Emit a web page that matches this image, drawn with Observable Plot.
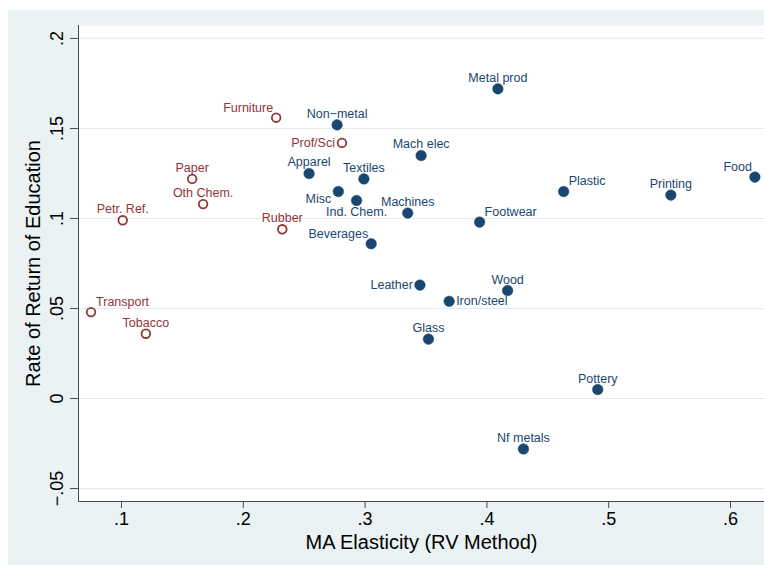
<!DOCTYPE html>
<html>
<head>
<meta charset="utf-8">
<script src="https://cdn.jsdelivr.net/npm/d3@7"></script>
<script src="https://cdn.jsdelivr.net/npm/@observablehq/plot@0.6"></script>
<style>
  html, body { margin: 0; padding: 0; background: #ffffff; }
  #wrap { position: relative; width: 764px; height: 565px; overflow: hidden; }
  #bg { position: absolute; left: 8px; top: 10px; width: 756px; height: 555px; background: #eaf2f3; }
  #chart { position: absolute; left: 0; top: 0; }
  #chart svg { background: transparent; }
</style>
</head>
<body>
<div id="wrap"><div id="bg"></div><div id="chart"></div></div>
<script>
const industries = ["Furniture","Prof/Sci","Paper","Oth Chem.","Petr. Ref.","Rubber","Transport","Tobacco",
  "Metal prod","Non\u2212metal","Mach elec","Apparel","Textiles","Misc","Ind. Chem.","Machines","Footwear",
  "Beverages","Plastic","Printing","Food","Leather","Iron/steel","Wood","Glass","Pottery","Nf metals"];
const maElasticity = [0.227,0.281,0.158,0.167,0.101,0.232,0.075,0.120,
  0.409,0.277,0.346,0.254,0.299,0.278,0.293,0.335,0.394,
  0.305,0.463,0.551,0.620,0.345,0.369,0.417,0.352,0.491,0.430];
const returnEducation = [0.156,0.142,0.122,0.108,0.099,0.094,0.048,0.036,
  0.172,0.152,0.135,0.125,0.122,0.115,0.110,0.103,0.098,
  0.086,0.115,0.113,0.123,0.063,0.054,0.060,0.033,0.005,-0.028];
const groupType = ["hollow","hollow","hollow","hollow","hollow","hollow","hollow","hollow",
  "filled","filled","filled","filled","filled","filled","filled","filled","filled",
  "filled","filled","filled","filled","filled","filled","filled","filled","filled","filled"];
// Stata-like marker label clock positions
const labelClock = [11,9,12,12,12,12,1,12,
  12,12,12,12,12,8,6,12,1,
  11,1,12,11,9,3,12,12,12,12];
const xTicks = [0.1,0.2,0.3,0.4,0.5,0.6];
const yTicks = [-0.05,0,0.05,0.1,0.15,0.2];
const xTitle = "MA Elasticity (RV Method)";
const yTitle = "Rate of Return of Education";

const rows = industries.map((name,i)=>({name, x: maElasticity[i], y: returnEducation[i], g: groupType[i], clock: labelClock[i]}));

const navy = "#1a476f", maroon = "#90353b";
const fmt = v => v === 0 ? "0" : (v < 0 ? "\u2212" : "") + String(Math.abs(v)).replace(/^0/, "");
const font = "'Liberation Sans', Arial, Helvetica, sans-serif";

const clockStyle = {
  12: {dx: 0, dy: -11, textAnchor: "middle"},
  11: {dx: -3, dy: -10, textAnchor: "end"},
  1:  {dx: 5, dy: -10, textAnchor: "start"},
  9:  {dx: -7, dy: 0, textAnchor: "end"},
  3:  {dx: 7, dy: 0, textAnchor: "start"},
  8:  {dx: -7, dy: 8, textAnchor: "end"},
  6:  {dx: 0, dy: 12, textAnchor: "middle"}
};
const labelMarks = [];
for (const c of Object.keys(clockStyle)) {
  const s = clockStyle[c];
  labelMarks.push(Plot.text(rows.filter(d => String(d.clock) === c), {
    x: "x", y: "y", text: "name", dx: s.dx, dy: s.dy, textAnchor: s.textAnchor,
    fill: d => d.g === "filled" ? navy : maroon, fontSize: 12.5
  }));
}

const xDomain = [0.0647, 0.6279];
const yDomain = [-0.0572, 0.2072];

const chart = Plot.plot({
  width: 764,
  height: 565,
  marginLeft: 78,
  marginRight: 0,
  marginTop: 25,
  marginBottom: 64,
  style: {fontFamily: font, background: "transparent", overflow: "visible"},
  x: {domain: xDomain, axis: null},
  y: {domain: yDomain, axis: null},
  marks: [
    Plot.frame({fill: "white", stroke: null}),
    Plot.gridY(yTicks, {stroke: "#e3edef", strokeOpacity: 1, strokeWidth: 1.2}),
    Plot.ruleX([xDomain[0]], {stroke: "#4a4a4a", strokeWidth: 1}),
    Plot.ruleY([yDomain[0]], {stroke: "#4a4a4a", strokeWidth: 1}),
    Plot.axisX({ticks: xTicks, tickSize: 7, tickFormat: () => "", label: null, stroke: "#4a4a4a"}),
    Plot.axisY({ticks: yTicks, tickSize: 8, tickFormat: () => "", label: null, stroke: "#4a4a4a"}),
    Plot.text(xTicks, {x: d => d, frameAnchor: "bottom", dy: 18, lineAnchor: "middle", text: fmt, fontSize: 18, fill: "black"}),
    Plot.text(yTicks, {y: d => d, frameAnchor: "left", dx: -21, rotate: -90, textAnchor: "middle", lineAnchor: "middle", text: fmt, fontSize: 18, fill: "black"}),
    Plot.text([xTitle], {frameAnchor: "bottom", dy: 41, lineAnchor: "middle", fontSize: 20, fill: "black"}),
    Plot.text([yTitle], {frameAnchor: "left", dx: -45, rotate: -90, textAnchor: "middle", lineAnchor: "middle", fontSize: 20, fill: "black"}),
    Plot.dot(rows.filter(d => d.g === "filled"), {x: "x", y: "y", r: 5.3, fill: navy, stroke: navy, strokeWidth: 0.5}),
    Plot.dot(rows.filter(d => d.g === "hollow"), {x: "x", y: "y", r: 4.3, fill: "white", stroke: maroon, strokeWidth: 1.8}),
    ...labelMarks
  ]
});
document.getElementById("chart").appendChild(chart);
</script>
</body>
</html>
